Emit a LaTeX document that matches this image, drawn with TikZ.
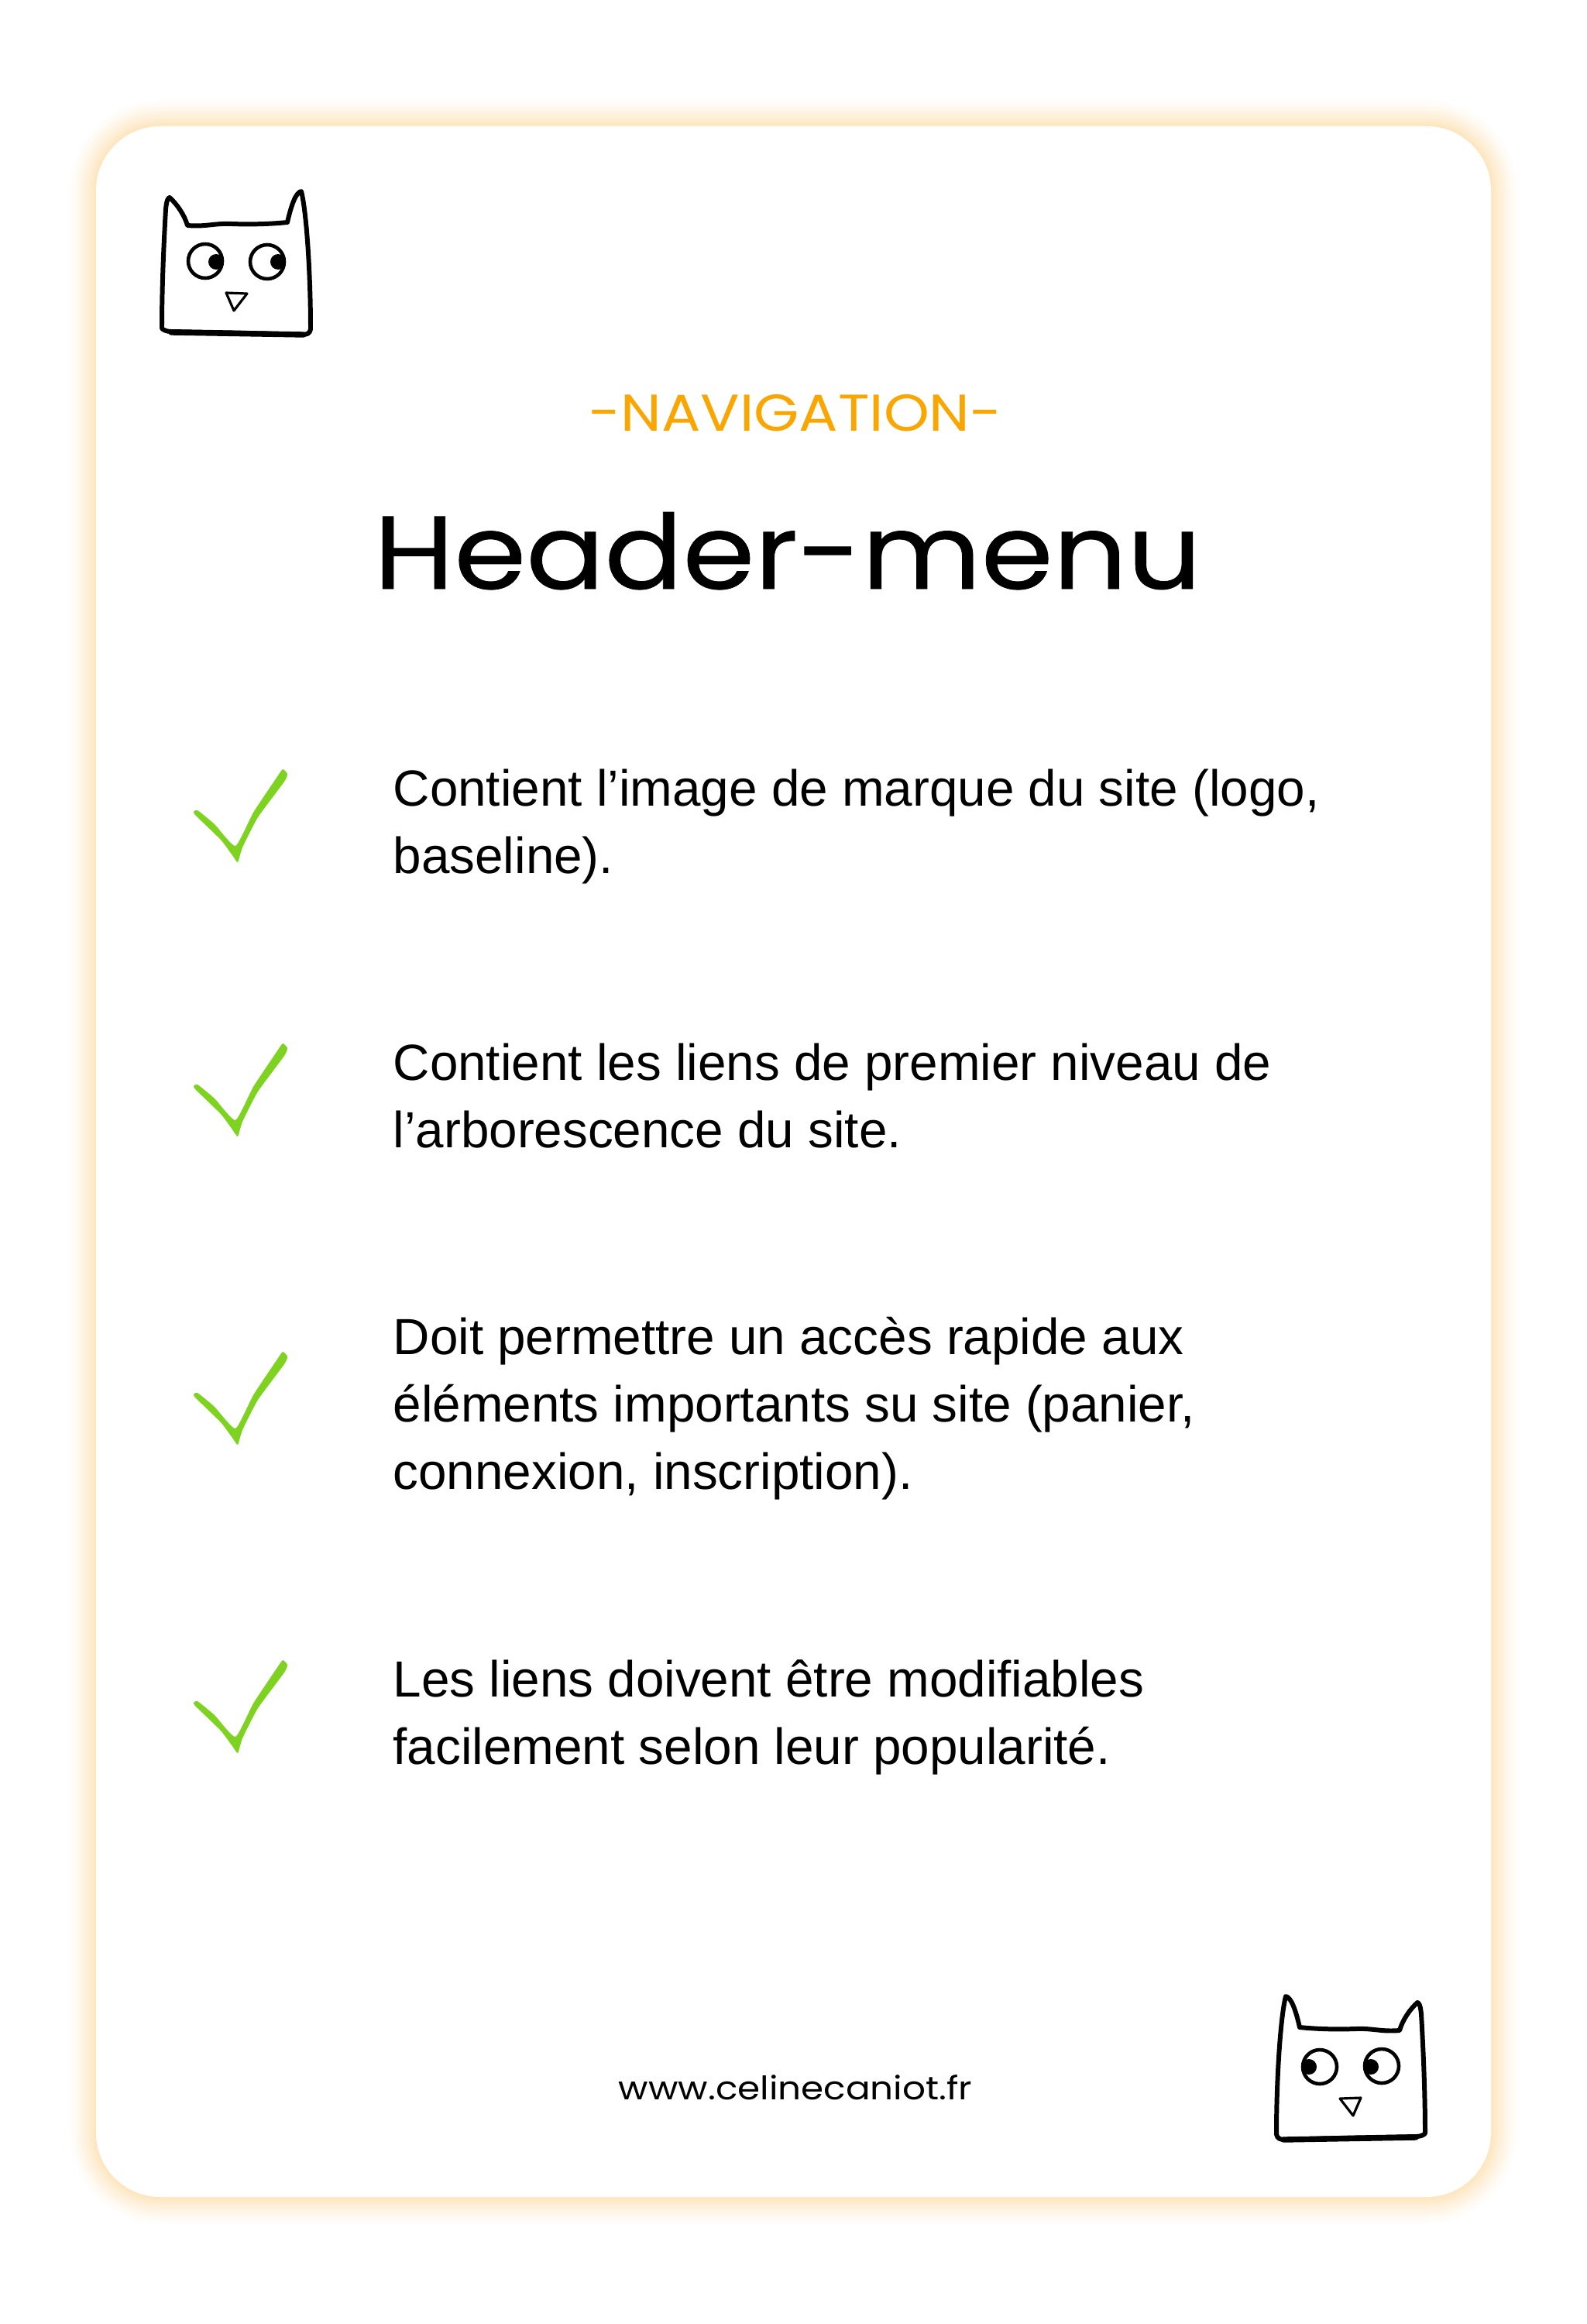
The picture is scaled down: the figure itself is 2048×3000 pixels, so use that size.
\documentclass[tikz,border=0pt]{standalone}
\usepackage{fontspec}
\usetikzlibrary{positioning}
\setmainfont{Liberation Sans}
\newfontfamily\cardfont[FakeStretch=1.12]{Poppins}
\newfontfamily\headerfont[FakeStretch=1.12,FakeBold=0.6]{Poppins}
\definecolor{glowcol}{HTML}{FDE4BB}
\definecolor{navcol}{HTML}{F9A602}
\definecolor{tickcol}{HTML}{7ED321}

\begin{document}
\begin{tikzpicture}[x=0.01cm, y=-0.01cm, node distance=1cm and 1cm,
  item/.style={inner sep=0pt, anchor=north west, align=left, font=\fontsize{18.65pt}{24.75pt}\selectfont},
  owl/.pic={
    \draw[line width=1.7pt, line join=round, line cap=round]
      (3,179) .. controls (3,120) and (6,60) .. (8,25) .. controls (9,14) and (11,10) .. (13,10)
      .. controls (22,18) and (32,32) .. (36,46) .. controls (60,48) and (70,43) .. (93,44)
      .. controls (120,45) and (145,44) .. (165,42) .. controls (170,20) and (176,3) .. (183,2)
      .. controls (190,30) and (195,110) .. (195,180) .. controls (194,186) and (190,187) .. (183,187)
      .. controls (130,185) and (70,184) .. (15,183) .. controls (9,183) and (5,181) .. cycle;
    \draw[line width=2.1pt, line cap=round] (15,184) .. controls (70,185) and (130,186) .. (186,187);
    \draw[line width=1.3pt] (59,92) circle (22);
    \draw[line width=1.3pt] (139,93) circle (22);
    \fill (73,93) circle (10);
    \fill (153,93) circle (10);
    \draw[line width=0.9pt, line join=round] (86,133) -- (113,134) -- (96,156) -- cycle;
  },
  tick/.pic={
    \fill[tickcol] plot[smooth cycle, tension=0.3] coordinates {(115,1) (121,7) (117,17) (83,63) (63,102) (57,121)
      (50,112) (35,92) (3,61) (0,56) (5,54) (27,72) (54,100) (77,57) (107,12)};
  }]
  \useasboundingbox (0,0) rectangle (2048,3000);

  % card with its soft edge
  \foreach \g in {36,34,...,2} {
    \pgfmathtruncatemacro{\pct}{100*(1-\g/37)^1.3}
    \pgfmathsetmacro{\rad}{0.83+\g*0.01}
    \fill[glowcol!\pct!white, rounded corners=\rad cm] (124-\g,163-\g) rectangle (1925+\g,2836+\g);
  }
  \fill[white, rounded corners=0.83cm] (124,163) rectangle (1925,2836);

  \pic at (206,245) {owl};
  \pic[xscale=-1] at (1843,2575) {owl};

  \node[inner sep=0pt, anchor=base, text=navcol, font=\cardfont\fontsize{19pt}{22pt}\selectfont] (nav) at (1027,556) {-NAVIGATION-};
  \node[inner sep=0pt, anchor=base, font=\headerfont\fontsize{38pt}{44pt}\selectfont] (header) at (1017,760) {Header-menu};

  \pic at (250,992) {tick};
  \pic at (250,1346) {tick};
  \pic at (250,1744) {tick};
  \pic at (250,2142) {tick};

  \node[item] (first) at (507,992) {Contient l’image de marque du site (logo,\\baseline).};
  \node[item, below=3.54cm of first.north west, anchor=north west] (second) {Contient les liens de premier niveau de\\l’arborescence du site.};
  \node[item, below=3.53cm of second.north west, anchor=north west] (third) {Doit permettre un accès rapide aux\\éléments importants su site (panier,\\connexion, inscription).};
  \node[item, below=4.42cm of third.north west, anchor=north west] (fourth) {Les liens doivent être modifiables\\facilement selon leur popularité.};

  \node[inner sep=0pt, anchor=base, font=\cardfont\fontsize{11.9pt}{14pt}\selectfont] (url) at (1027,2710) {www.celinecaniot.fr};
\end{tikzpicture}
\end{document}
